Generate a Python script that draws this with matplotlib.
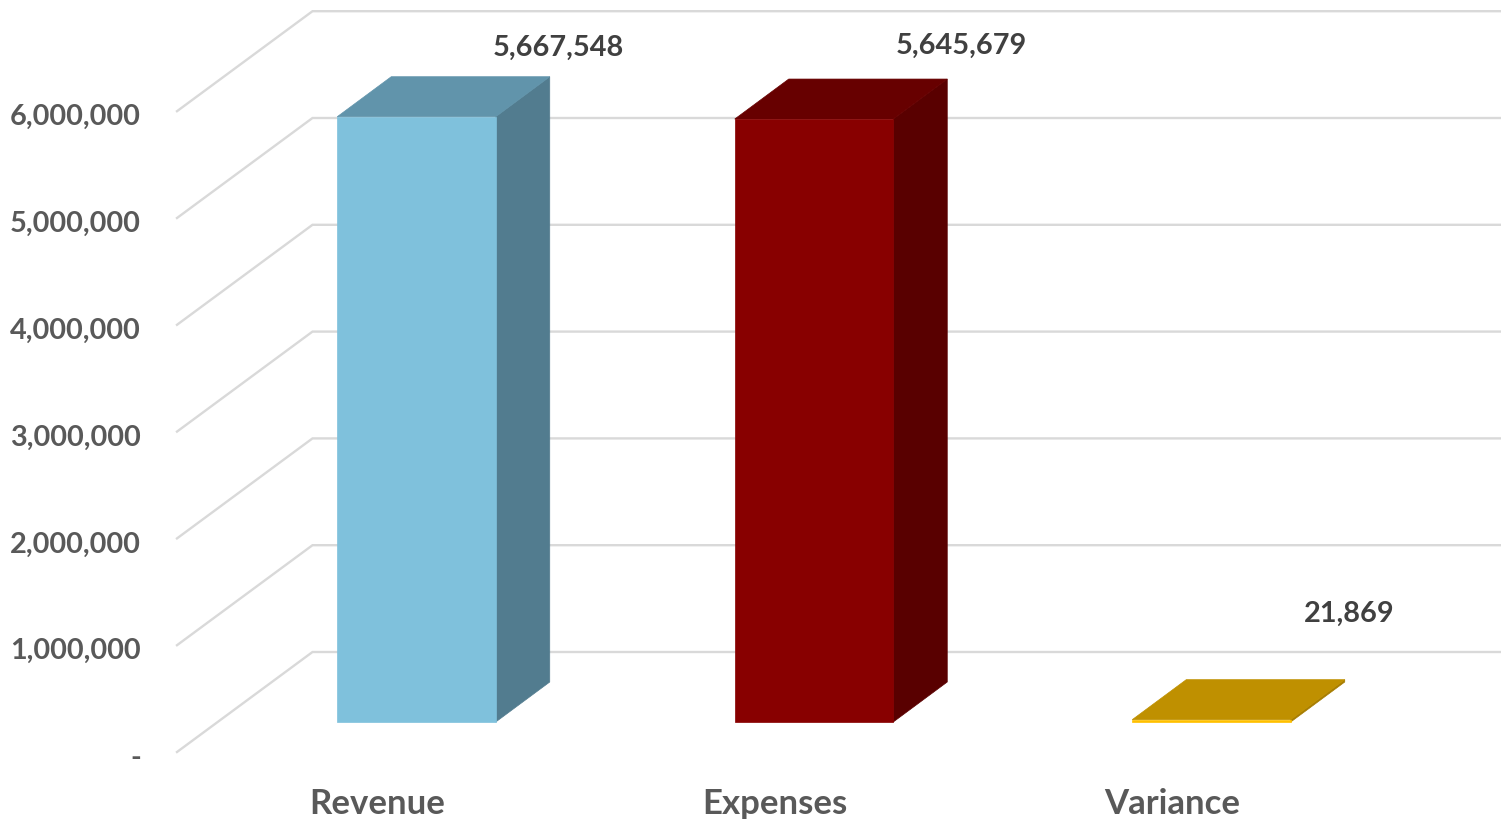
import matplotlib
matplotlib.use("Agg")
import matplotlib.pyplot as plt
from matplotlib.patches import Polygon

categories = ["Revenue", "Expenses", "Variance"]
values = [5667548, 5645679, 21869]
value_labels = ["5,667,548", "5,645,679", "21,869"]
tick_values = [0, 1000000, 2000000, 3000000, 4000000, 5000000, 6000000]
tick_labels = ["-", "1,000,000", "2,000,000", "3,000,000", "4,000,000", "5,000,000", "6,000,000"]

front_colors = ["#7FC1DC", "#880000", "#FFC000"]
top_colors = ["#6194AB", "#670000", "#BF9000"]
side_colors = ["#527C8F", "#590000", "#A67C00"]

W, H = 1501, 820
PX_PER_X = 397.5
PX_PER_Y = 106.8 / 1e6
ORIGIN_X, ORIGIN_Y = 416.5, 723

fig = plt.figure(figsize=(W / 100, H / 100), dpi=100)
ax = fig.add_axes([0, 0, 1, 1])
ax.set_xlim((0 - ORIGIN_X) / PX_PER_X, (W - ORIGIN_X) / PX_PER_X)
ax.set_ylim(-(H - ORIGIN_Y) / PX_PER_Y, ORIGIN_Y / PX_PER_Y)
ax.axis("off")


def dx(px):
    return px / PX_PER_X


def dy(px):
    return px / PX_PER_Y


# Floor and back-wall gridlines
for v in tick_values:
    xs = [dx(177 - ORIGIN_X), dx(312.5 - ORIGIN_X), dx(W - ORIGIN_X)]
    ys = [v - dy(30), v + dy(70), v + dy(70)]
    ax.plot(xs, ys, color="#D9D9D9", lw=1.7, solid_joinstyle="miter", zorder=1)

# Extruded columns
half = dx(158.5) / 2
depth_x, depth_y = dx(54), dy(40)
for i, (val, fc, tc, sc) in enumerate(zip(values, front_colors, top_colors, side_colors)):
    l, r = i - half, i + half
    ax.add_patch(Polygon([(r, 0), (r + depth_x, depth_y), (r + depth_x, val + depth_y), (r, val)],
                         closed=True, fc=sc, ec=sc, lw=0.5, zorder=2))
    ax.add_patch(Polygon([(l, val), (r, val), (r + depth_x, val + depth_y), (l + depth_x, val + depth_y)],
                         closed=True, fc=tc, ec=tc, lw=0.5, zorder=3))
    ax.add_patch(Polygon([(l, 0), (r, 0), (r, val), (l, val)],
                         closed=True, fc=fc, ec=fc, lw=0.5, zorder=4))

font = dict(family="Lato", fontweight="bold")

for v, lab in zip(tick_values, tick_labels):
    ax.text(dx(141 - ORIGIN_X), v - dy(35), lab, ha="right", va="center",
            color="#595959", fontsize=20.8, **font)

label_dx = [142, 147, 138]
label_dy = [70, 74, 107]
for i, (val, lab) in enumerate(zip(values, value_labels)):
    ax.text(i + dx(label_dx[i]), val + dy(label_dy[i]), lab, ha="center", va="center",
            color="#404040", fontsize=20.8, **font)

for i, cat in enumerate(categories):
    ax.text(i - dx(39.5), -dy(81), cat, ha="center", va="center",
            color="#595959", fontsize=25, **font)

fig.savefig("out.png", dpi=100)
